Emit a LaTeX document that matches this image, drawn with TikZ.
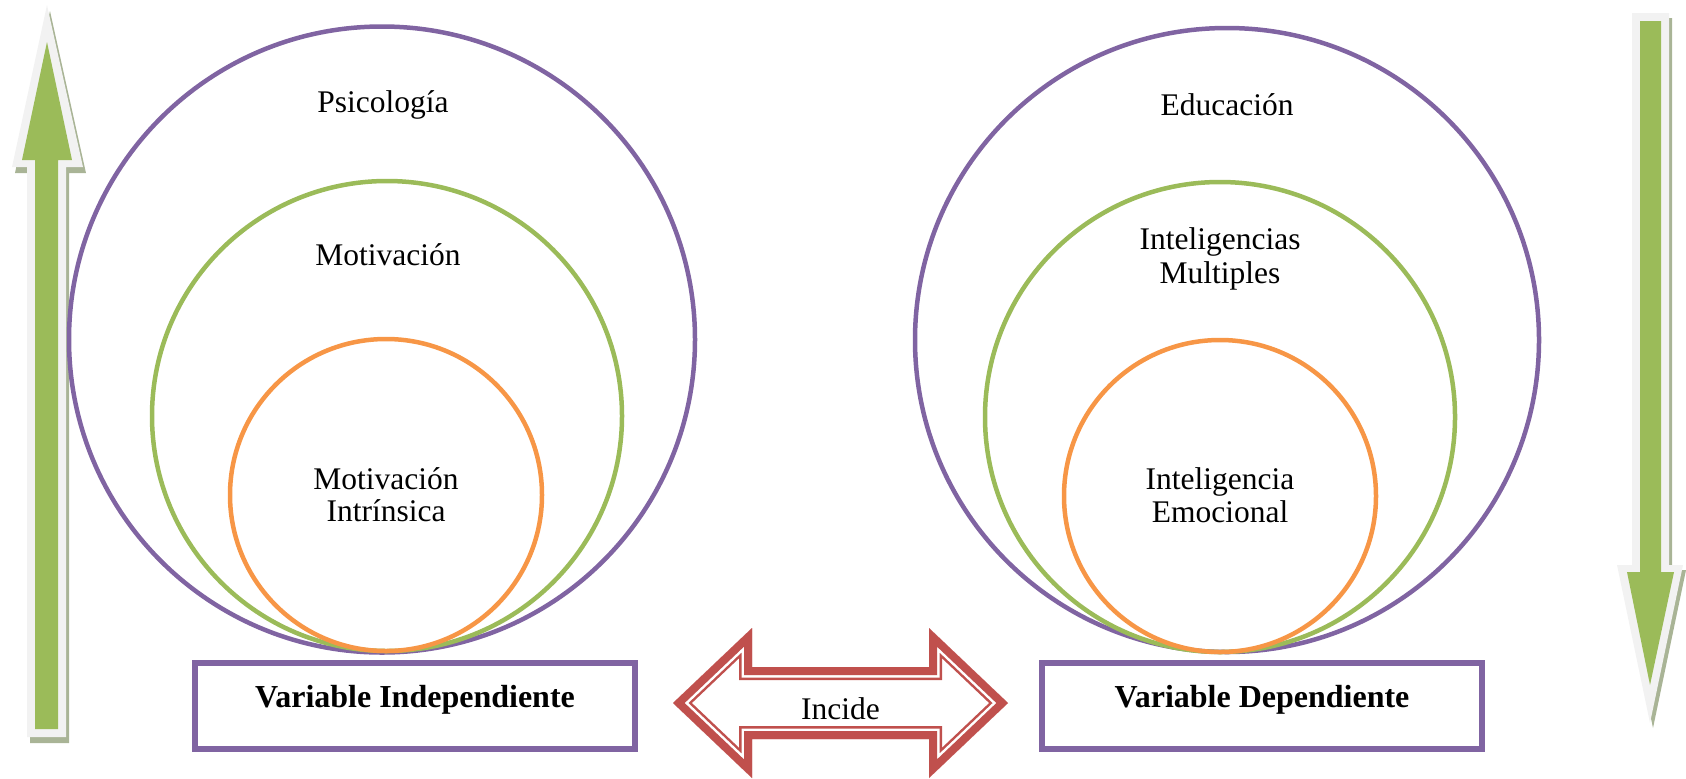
\documentclass[tikz,border=0pt]{standalone}
\usepackage{fontspec}
\setmainfont{Liberation Serif}
\definecolor{vpurple}{HTML}{8064A2}
\definecolor{vgreen}{HTML}{9BBB59}
\definecolor{vorange}{HTML}{F79646}
\definecolor{vred}{HTML}{C0504D}
\definecolor{vlight}{HTML}{F2F2F2}
\definecolor{vshadow}{HTML}{A9B496}
\begin{document}
\begin{tikzpicture}[x=0.5pt,y=-0.5pt,
  ring/.style={line width=2.25pt},
  lbl/.style={font=\fontsize{15.75}{16}\selectfont, anchor=base, inner sep=0pt},
  blbl/.style={font=\fontsize{16}{17}\selectfont\bfseries, anchor=base, inner sep=0pt},
  varbox/.style={draw=vpurple, line width=3pt, minimum width=220pt, minimum height=43pt, inner sep=0pt},
  incideshape/.style={insert path={(673,703) -- (752,628) -- (752,667) -- (929,667) -- (929,628) -- (1008,703) -- (929,778) -- (929,739) -- (752,739) -- (752,778) -- cycle}},
  upouter/.style={insert path={(47,5) -- (83,167) -- (66,167) -- (66,737) -- (27,737) -- (27,167) -- (12,167) -- cycle}},
  downouter/.style={insert path={(1632,13) -- (1669,13) -- (1669,565) -- (1683,565) -- (1650,723) -- (1617,565) -- (1632,565) -- cycle}}
]
\useasboundingbox (0,0) rectangle (1686,778);

% ---------- left vertical arrow (up) ----------
\fill[vshadow, shift={(3,6)}, upouter];
\fill[vlight, upouter];
\fill[vgreen] (47,42) -- (72,160) -- (58,160) -- (58,729) -- (35,729) -- (35,160) -- (22,160) -- cycle;

% ---------- right vertical arrow (down) ----------
\fill[vshadow, shift={(3,5)}, downouter];
\fill[vlight, downouter];
\fill[vgreen] (1640,21) -- (1661,21) -- (1661,572) -- (1674,572) -- (1650,685) -- (1627,572) -- (1640,572) -- cycle;

% ---------- left circles ----------
\coordinate (cPsi) at (382,339.5);
\coordinate (cMot) at (387,416);
\coordinate (cInt) at (386,495);
\draw[ring, vpurple] (cPsi) circle [radius=313];
\draw[ring, vgreen]  (cMot) circle [radius=235];
\draw[ring, vorange] (cInt) circle [radius=156];

\node[lbl] (tPsi)  at (383,112) {Psicología};
\node[lbl] (tMot)  at (388,265) {Motivación};
\node[lbl] (tInt1) at (386,489) {Motivación};
\node[lbl] (tInt2) at (386,521) {Intrínsica};

% ---------- right circles ----------
\coordinate (cEdu) at (1227,340);
\coordinate (cIM)  at (1220,417);
\coordinate (cIE)  at (1220,496);
\draw[ring, vpurple] (cEdu) circle [radius=312];
\draw[ring, vgreen]  (cIM)  circle [radius=235];
\draw[ring, vorange] (cIE)  circle [radius=156];

\node[lbl] (tEdu)  at (1227,115) {Educación};
\node[lbl] (tIM1)  at (1220,249) {Inteligencias};
\node[lbl] (tIM2)  at (1220,283) {Multiples};
\node[lbl] (tIE1)  at (1220,489) {Inteligencia};
\node[lbl] (tIE2)  at (1220,522) {Emocional};

% ---------- variable boxes ----------
\node[varbox] (boxI) at (415,706) {};
\node[varbox] (boxD) at (1262,706) {};
\node[blbl] (tVI) at (415,707) {Variable Independiente};
\node[blbl] (tVD) at (1262,707) {Variable Dependiente};

% ---------- double arrow "Incide" ----------
\begin{scope}
  \clip[incideshape];
  \fill[white, incideshape];
  \draw[vred, line width=13pt, line join=miter, incideshape];
  \draw[white, line width=10.5pt, line join=miter, incideshape];
  \draw[vred, line width=8pt, line join=miter, incideshape];
\end{scope}
\node[lbl] (tInc) at (840.5,719) {Incide};
\end{tikzpicture}
\end{document}
